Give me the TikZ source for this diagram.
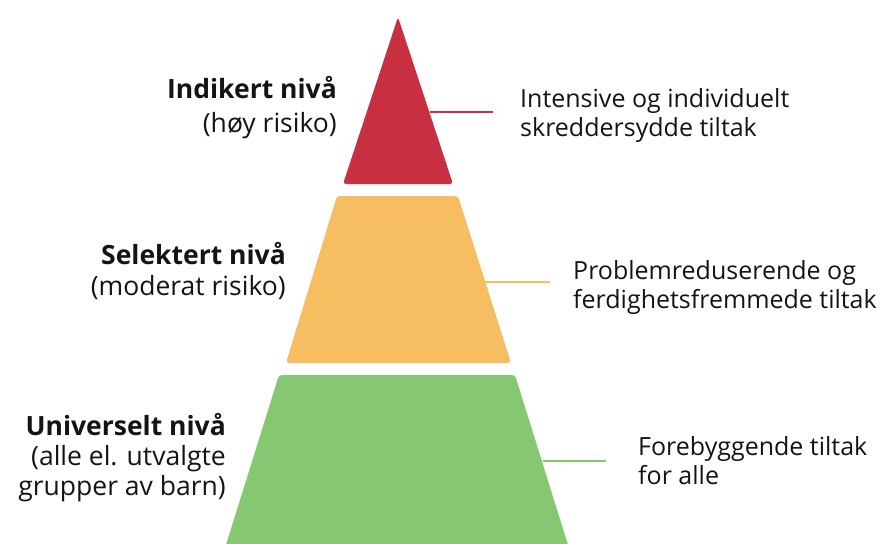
\documentclass[tikz,border=0pt]{standalone}
\usepackage{fontspec}
\setmainfont{Open Sans}
\definecolor{lvlred}{RGB}{200,48,66}
\definecolor{lvlorange}{RGB}{246,190,96}
\definecolor{lvlgreen}{RGB}{134,199,113}
\definecolor{txt}{RGB}{20,20,20}
\begin{document}
\begin{tikzpicture}[x=1pt,y=-1pt,
  level/.style={rounded corners=3pt},
  lbl/.style={inner sep=0pt,font=\fontsize{25}{29}\selectfont,text=txt},
  lbll/.style={inner sep=0pt,font=\fontsize{26.5}{30}\selectfont,text=txt},
  lblb/.style={inner sep=0pt,font=\fontsize{26.5}{30}\selectfont\bfseries,text=txt},
  leader/.style={line width=1.8pt}]
\useasboundingbox (0,0) rectangle (880,543);
% pyramid levels
\fill[lvlred,level] (398,17) -- (453,184) -- (343,184) -- cycle;
\fill[lvlorange,level] (337,196) -- (458,196) -- (511,363) -- (286,363) -- cycle;
\fill[lvlgreen,level] (279,375) -- (515,375) -- (569,548) -- (225,548) -- cycle;
% coordinates for leaders
\coordinate (r1) at (430,112);
\coordinate (r2) at (493,112);
\coordinate (o1) at (484,282);
\coordinate (o2) at (550,282);
\coordinate (g1) at (543,461);
\coordinate (g2) at (606,461);
\draw[leader,lvlred] (r1) -- (r2);
\draw[leader,lvlorange] (o1) -- (o2);
\draw[leader,lvlgreen] (g1) -- (g2);
% left labels
\node[lblb,anchor=base east] (ind1) at (337,98) {Indikert nivå};
\node[lbll,anchor=base east] (ind2) at (337,132) {(høy risiko)};
\node[lblb,anchor=base east] (sel1) at (286,264) {Selektert nivå};
\node[lbll,anchor=base east] (sel2) at (286,295) {(moderat risiko)};
\node[lblb,anchor=base east] (uni1) at (226,435) {Universelt nivå};
\node[lbll,anchor=base east] (uni2) at (226,465) {(alle el. utvalgte};
\node[lbll,anchor=base east] (uni3) at (226,495) {grupper av barn)};
% right labels
\node[lbl,anchor=base west] (int1) at (520,107) {Intensive og individuelt};
\node[lbl,anchor=base west] (int2) at (520,136) {skreddersydde tiltak};
\node[lbl,anchor=base west] (pro1) at (573,279) {Problemreduserende og};
\node[lbl,anchor=base west] (pro2) at (573,308) {ferdighetsfremmede tiltak};
\node[lbl,anchor=base west] (for1) at (638,455) {Forebyggende tiltak};
\node[lbl,anchor=base west] (for2) at (638,484) {for alle};
\end{tikzpicture}
\end{document}
